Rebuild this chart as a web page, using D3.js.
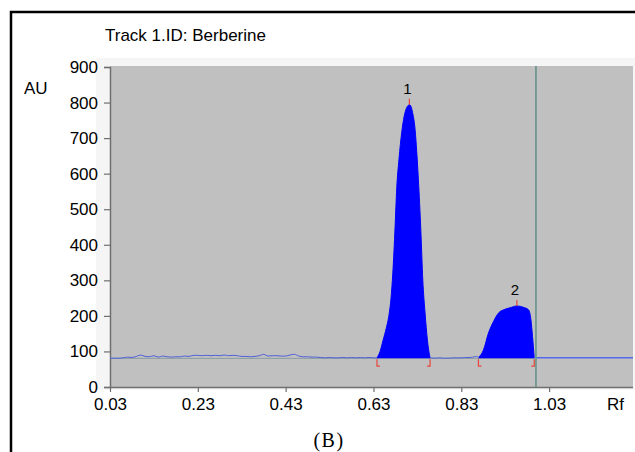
<!DOCTYPE html>
<html><head><meta charset="utf-8">
<script src="https://cdn.jsdelivr.net/npm/d3@7"></script>
<style>body{margin:0;background:#fff}svg{display:block}text{font-family:Arial,"Liberation Sans",sans-serif}</style>
</head><body>
<svg id="c" width="635" height="452"></svg>
<script>
// ---- data ----
const title = "Track 1.ID: Berberine";
const xTicks = [0.03, 0.23, 0.43, 0.63, 0.83, 1.03];
const xTickLabels = ["0.03", "0.23", "0.43", "0.63", "0.83", "1.03"];
const yTicks = [0, 100, 200, 300, 400, 500, 600, 700, 800, 900];
const baselineRf = [0.03,0.04,0.05,0.06,0.07,0.08,0.09,0.10,0.11,0.12,0.13,0.14,0.15,0.16,0.17,0.18,0.19,0.20,0.21,0.22,0.23,0.24,0.25,0.26,0.27,0.28,0.29,0.30,0.31,0.32,0.33,0.34,0.35,0.36,0.37,0.38,0.39,0.40,0.41,0.42,0.43,0.44,0.45,0.46,0.47,0.48,0.49,0.50,0.51,0.52,0.53,0.54,0.55,0.56,0.57,0.58,0.59,0.60,0.61,0.62,0.63,0.638];
const baselineAU = [81,81,81,82,84,83,86,90,86,85,88,84,87,85,84,85,85,87,86,89,89,88,89,88,89,88,90,88,89,88,86,86,85,86,88,92,87,88,88,87,87,90,92,87,85,85,84,84,83,82,83,82,82,83,82,83,82,83,82,83,82,82];
const peak1Rf = [0.638,0.645,0.652,0.659,0.666,0.670,0.674,0.6792,0.683,0.688,0.6945,0.700,0.705,0.709,0.7118,0.715,0.719,0.7248,0.7285,0.7323,0.7378,0.7423,0.7475,0.7528,0.7589];
const peak1AU = [82,100,132,165,208,250,320,450,560,640,718,762,784,792,794,790,772,724,662,583,442,301,208,132,82];
const gapRf = [0.7589,0.77,0.78,0.79,0.80,0.81,0.82,0.83,0.84,0.85,0.86,0.865,0.869];
const gapAU = [82,81,82,81,81,82,82,82,83,83,85,86,83];
const peak2Rf = [0.869,0.8805,0.8919,0.9033,0.9147,0.9261,0.9413,0.9566,0.9717,0.9831,0.9886,0.9922,0.9961];
const peak2AU = [83,104,152,184,208,217,223,228,224,217,189,142,82];
const tailRf = [0.9961, 1.221];
const tailAU = [82, 82];
const peakStarts = [0.638, 0.869];
const peakEnds = [0.7589, 0.9961];
const peakApexRf = [0.7118, 0.9566];
const peakApexAU = [794, 228];
const peakLabels = ["1", "2"];
const frontRf = 1.0;

// ---- drawing ----
const svg = d3.select("#c");
const x = d3.scaleLinear().domain([0.03, 1.221]).range([110, 633]);
const y = d3.scaleLinear().domain([0, 900]).range([387, 67]);
const zip = (a, b) => a.map((v, i) => [v, b[i]]);

// outer frame
svg.append("rect").attr("x", 11).attr("y", 12).attr("width", 700).attr("height", 500)
  .attr("fill", "none").attr("stroke", "#000").attr("stroke-width", 2.5);

// light panel
svg.append("rect").attr("x", 96).attr("y", 58).attr("width", 539).attr("height", 332).attr("fill", "#f5f5f5");
// plot area
svg.append("rect").attr("x", x(0.03)).attr("y", y(900) - 1).attr("width", x(1.221) - x(0.03)).attr("height", y(0) - y(900) + 1).attr("fill", "#c0c0c0");

// title & labels
svg.append("text").attr("x", 105).attr("y", 41).attr("font-size", 17).attr("fill", "#000").text(title);
svg.append("text").attr("x", 24).attr("y", 94).attr("font-size", 17).attr("fill", "#000").text("AU");
svg.append("text").attr("x", 607).attr("y", 410).attr("font-size", 17).attr("fill", "#000").text("Rf");
svg.append("text").attr("x", 329).attr("y", 447).attr("text-anchor", "middle").attr("font-size", 20)
  .attr("letter-spacing", "1.5px").style("font-family", "'Liberation Serif','Times New Roman',serif").text("(B)");

// axes
const yAxis = d3.axisLeft(y).tickValues(yTicks).tickSize(6).tickPadding(6).tickFormat(d3.format("d"));
const gy = svg.append("g").attr("transform", `translate(${x(0.03)},0)`).call(yAxis);
const xAxis = d3.axisBottom(x).tickValues(xTicks).tickSize(5).tickPadding(6).tickFormat((d, i) => xTickLabels[i]);
const gx = svg.append("g").attr("transform", `translate(0,${y(0)})`).call(xAxis);
[gy, gx].forEach(g => {
  g.select(".domain").attr("stroke", "#6f6f6f").attr("stroke-width", 1.5);
  g.selectAll(".tick line").attr("stroke", "#6f6f6f").attr("stroke-width", 1.2);
  g.selectAll(".tick text").attr("font-size", 17).attr("fill", "#000").style("font-family", "Arial,'Liberation Sans',sans-serif");
});
gx.select(".domain").attr("d", `M${x(0.03)},0.5H${x(1.221)}`);

// reference baseline
svg.append("line").attr("x1", x(0.03)).attr("x2", x(0.9961)).attr("y1", y(80.5)).attr("y2", y(80.5))
  .attr("stroke", "#8a9ea2").attr("stroke-width", 1);

// peak fills
const area = d3.area().x(d => x(d[0])).y0(y(81)).y1(d => y(d[1])).curve(d3.curveMonotoneX);
const line = d3.line().x(d => x(d[0])).y(d => y(d[1])).curve(d3.curveMonotoneX);
[zip(peak1Rf, peak1AU), zip(peak2Rf, peak2AU)].forEach(p => {
  svg.append("path").datum(p).attr("d", area).attr("fill", "#0000ff");
  svg.append("path").datum(p).attr("d", line).attr("fill", "none").attr("stroke", "#0000ff").attr("stroke-width", 1);
});

// noisy baseline
svg.append("path").datum(zip(baselineRf, baselineAU)).attr("d", line).attr("fill", "none").attr("stroke", "#5060d8").attr("stroke-width", 1);
svg.append("path").datum(zip(gapRf, gapAU)).attr("d", line).attr("fill", "none").attr("stroke", "#5060d8").attr("stroke-width", 1);
svg.append("path").datum(zip(tailRf, tailAU)).attr("d", d3.line().x(d => x(d[0])).y(d => y(d[1]))).attr("fill", "none").attr("stroke", "#5468ec").attr("stroke-width", 1.5);

// solvent front line
svg.append("line").attr("x1", x(frontRf)).attr("x2", x(frontRf)).attr("y1", y(900) - 1).attr("y2", y(0))
  .attr("stroke", "#6e9890").attr("stroke-width", 1.8);

// red markers
const red = "#e8453c";
const by = y(81);
peakStarts.forEach(r => {
  svg.append("path").attr("d", `M${x(r)},${by + 1}V${by + 8}H${x(r) + 3}`).attr("fill", "none").attr("stroke", red).attr("stroke-width", 1.2);
});
peakEnds.forEach(r => {
  svg.append("path").attr("d", `M${x(r)},${by + 1}V${by + 8}H${x(r) - 3}`).attr("fill", "none").attr("stroke", red).attr("stroke-width", 1.2);
});
peakApexRf.forEach((r, i) => {
  svg.append("line").attr("x1", x(r)).attr("x2", x(r)).attr("y1", y(peakApexAU[i]) - 6).attr("y2", y(peakApexAU[i]))
    .attr("stroke", red).attr("stroke-width", 1.2);
  svg.append("text").attr("x", x(r) - 2).attr("y", y(peakApexAU[i]) - 11).attr("text-anchor", "middle")
    .attr("font-size", 15).attr("fill", "#000").text(peakLabels[i]);
});
</script>
</body></html>
